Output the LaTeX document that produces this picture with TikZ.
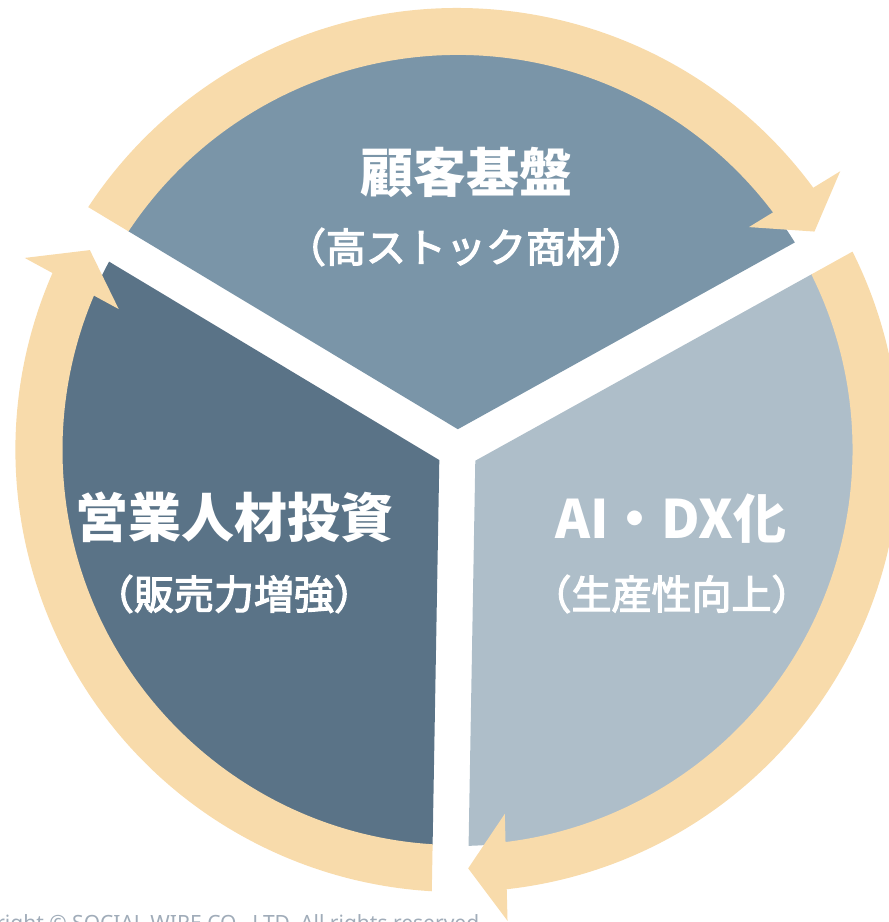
\documentclass[tikz,border=0pt]{standalone}
\usepackage{fontspec}
\newfontfamily\jpfont{Noto Sans CJK JP}
\newfontfamily\jpmedfont{Noto Sans CJK JP}[FakeBold=3]
\newfontfamily\cpyfont{Noto Sans}
\usetikzlibrary{calc}
\definecolor{secTop}{HTML}{7A95A8}
\definecolor{secRight}{HTML}{AEBEC9}
\definecolor{secLeft}{HTML}{5A7387}
\definecolor{ringorange}{HTML}{F8DBAB}
\definecolor{cpygray}{HTML}{A0ACB9}
\tikzset{
  titletext/.style={text=white, font=\jpfont\bfseries\fontsize{53}{60}\selectfont, inner sep=0pt},
  subtext/.style={text=white, font=\jpmedfont\fontsize{40}{46}\selectfont, inner sep=0pt},
  arrowfill/.style={fill=ringorange},
}
% #1 = clockwise-side gap angle, #2 = sector colour, #3 = name prefix
\newcommand\cyclesector[3]{%
  \pgfmathsetmacro\cyA{#1}%
  \pgfmathsetmacro\cyB{#1+120}%
  \pgfmathsetmacro\cyM{#1+60}%
  \pgfmathsetmacro\cyPa{#1+40}%
  \pgfmathsetmacro\cyPb{#1+80}%
  \pgfmathsetmacro\cyT{#1+asin(18/418.5)}%
  \pgfmathsetmacro\cyE{\cyT+4.5}%
  \pgfmathsetmacro\cyS{\cyB+4}%
  \pgfmathsetmacro\cyTo{\cyT+90}%
  \pgfmathsetmacro\cyTi{\cyT+180}%
  \coordinate (#3V) at (\cyM:20.78);
  \begin{scope}
    \clip (#3V) -- ($(#3V)+(\cyA:700)$) -- (\cyPa:800) -- (\cyPb:800) -- ($(#3V)+(\cyB:700)$) -- cycle;
    \fill[#2] (0,0) circle[radius=396pt];
    \fill[arrowfill] (\cyE:442) arc[start angle=\cyE, end angle=\cyS, radius=442pt]
      -- (\cyS:395) arc[start angle=\cyS, end angle=\cyE, radius=395pt] -- cycle;
  \end{scope}
  \coordinate (#3T) at (\cyT:418.5);
  \coordinate (#3M) at ($(#3T)+(\cyTo:38)$);
  \fill[arrowfill] (#3T) -- ($(#3M)+(\cyT:53.5)$) -- ($(#3M)+(\cyTi:53.5)$) -- cycle;
}
\begin{document}
\begin{tikzpicture}[x=1pt,y=1pt]
\useasboundingbox (-457.5,-472) rectangle (431.5,450);
\cyclesector{29}{secTop}{top}
\cyclesector{-91}{secRight}{right}
\cyclesector{149}{secLeft}{left}
\node[titletext] (t1) at (9.5,278) {顧客基盤};
\node[subtext] (s1) at (8.5,203) {（高ストック商材）};
\node[titletext] (t2) at (-223,-67) {営業人材投資};
\node[subtext] (s2) at (-223.5,-144) {（販売力増強）};
\node[titletext] (t3) at (213.5,-69) {AI・DX化};
\node[subtext] (s3) at (214,-144) {（生産性向上）};
\node[anchor=base east, text=cpygray, font=\cpyfont\fontsize{21}{25}\selectfont, inner sep=0pt] (cpy) at (27.5,-480) {Copyright © SOCIAL WIRE CO., LTD. All rights reserved.};
\end{tikzpicture}
\end{document}
